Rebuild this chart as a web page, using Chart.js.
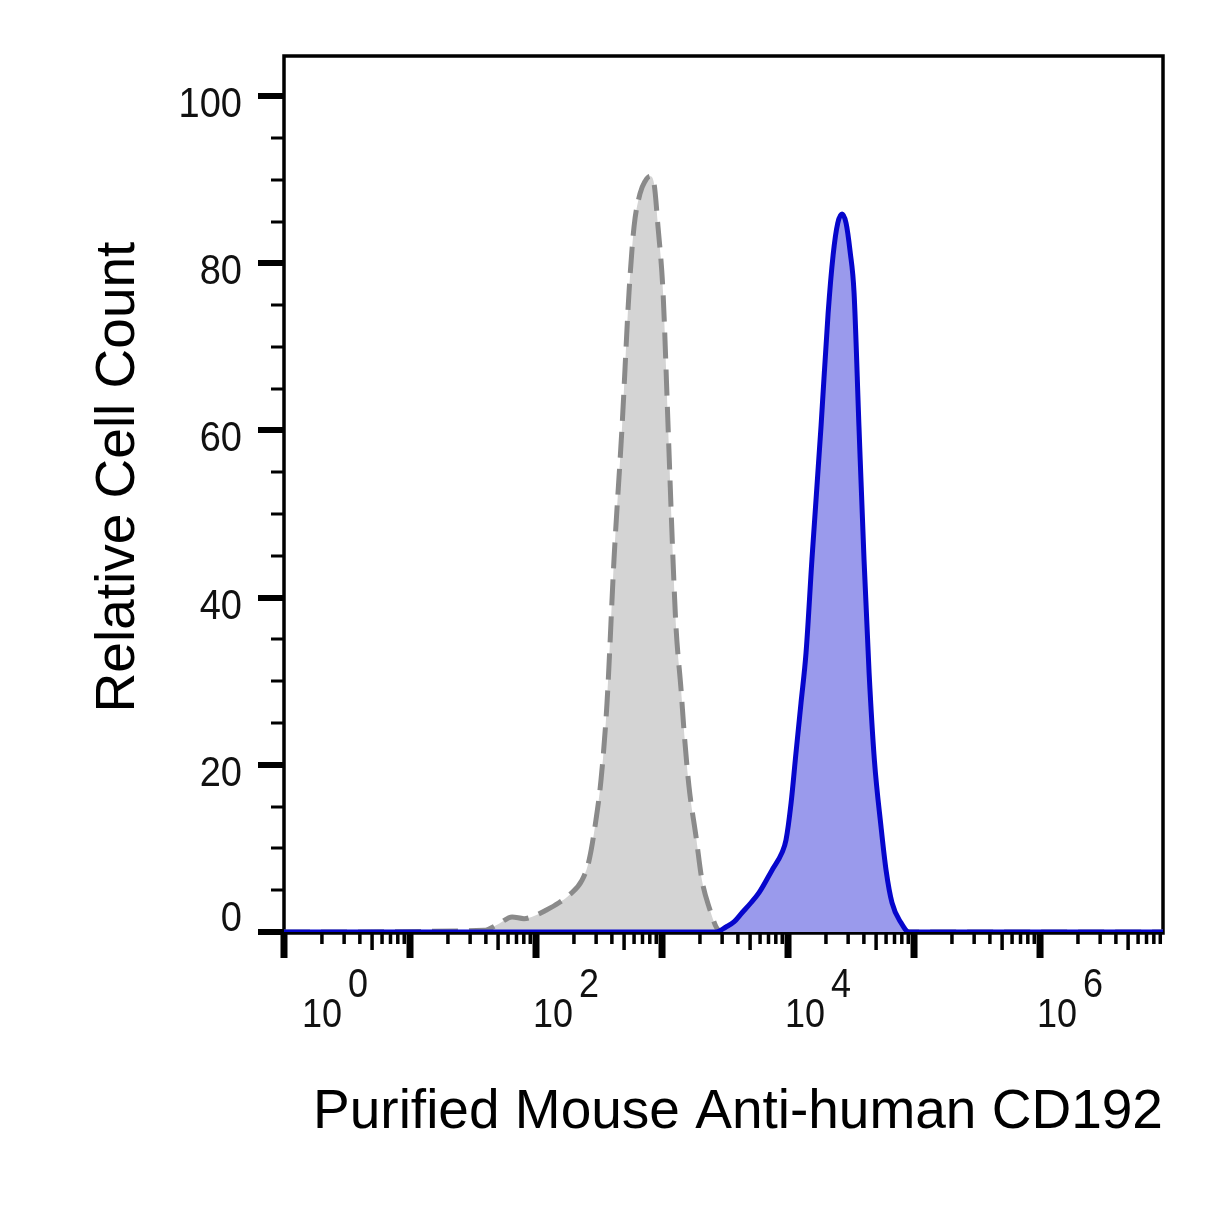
<!DOCTYPE html>
<html>
<head>
<meta charset="utf-8">
<script src="https://cdn.jsdelivr.net/npm/chart.js@4/dist/chart.umd.min.js"></script>
<style>
  html, body { margin: 0; padding: 0; background: #fff; }
  #histo { display: block; }
</style>
</head>
<body>
<canvas id="histo" width="1222" height="1226" style="width:1222px;height:1226px"></canvas>
<script>
// axis text
var xTitle = 'Purified Mouse Anti-human CD192';
var yTitle = 'Relative Cell Count';

// log axis: labelled decades (exponents) and y tick labels
var xLabelExp = [0, 2, 4, 6];
var yLabels = [0, 20, 40, 60, 80, 100];

// isotype control (grey, dashed)
var controlX = [1, 38.6, 50.8, 64.6, 80.4, 96.4, 120, 152, 183, 232, 264, 299, 328, 366, 416, 482, 547, 600, 668, 733, 804, 865, 929, 1019, 1117, 1222, 1291, 1416, 1496, 1637, 1862, 2075, 2360, 2831, 3388, 9460000];
var controlY = [0, 0.2, 1.0, 1.8, 1.6, 1.9, 2.6, 3.5, 4.4, 6.2, 8.6, 13.4, 18.2, 27.4, 44.6, 60.5, 76.5, 84.4, 88.3, 89.8, 90.4, 89.5, 84.4, 76.5, 60.5, 44.6, 36.5, 29.0, 24.0, 17.4, 11.4, 6.2, 3.0, 0.2, 0, 0];

// CD192 stained (blue)
var stainedX = [1, 1365, 2685, 3221, 3724, 4315, 5082, 5888, 7464, 8954, 9638, 10568, 11561, 12677, 13900, 15488, 18281, 20800, 22800, 24800, 26853, 28900, 31046, 33420, 36559, 40087, 44000, 48500, 54702, 59979, 66834, 78886, 91201, 9460000];
var stainedY = [0, 0, 0, 0.6, 1.2, 2.3, 3.5, 4.7, 7.4, 9.5, 11.0, 15.4, 21.4, 27.4, 33.4, 44.6, 60.5, 74.0, 81.0, 84.8, 85.9, 84.8, 81.5, 76.5, 60.5, 44.6, 31.0, 20.5, 12.6, 7.4, 3.5, 1.1, 0, 0];

function toPoints(xs, ys){
    var pts = [];
    for (var i = 0; i < xs.length; i++) pts.push({x: xs[i], y: ys[i]});
    return pts;
}

var FONT = '"Liberation Sans", Arimo, Arial, sans-serif';

// frame, ticks and labels drawn from the chart's own scales
var flowAxes = {
    id: 'flowAxes',
    beforeDatasetsDraw: function(chart){
        var ctx = chart.ctx, a = chart.chartArea;
        var xs = chart.scales.x, ys = chart.scales.y;
        ctx.save();
        ctx.strokeStyle = '#000';
        ctx.fillStyle = '#000';
        ctx.lineWidth = 3.5;
        ctx.strokeRect(a.left, a.top, a.right - a.left, a.bottom - a.top + 1);

        // y ticks
        for (var v = 0; v <= 100; v += 5){
            var py = Math.round(ys.getPixelForValue(v));
            var major = v % 20 === 0;
            var len = major ? 26 : 13, w = major ? 6 : 3;
            ctx.fillRect(a.left - len, py - w / 2, len, w);
        }
        // x ticks
        var maxV = xs.max;
        for (var k = 0; k <= 7; k++){
            for (var m = 1; m <= 9; m++){
                var val = m * Math.pow(10, k);
                if (val > maxV) break;
                var px = xs.getPixelForValue(val);
                var len2 = m === 1 ? 26 : (m === 5 ? 18 : 12);
                var w2 = m === 1 ? 7 : 3.5;
                ctx.fillRect(px - w2 / 2, a.bottom, w2, len2);
            }
        }

        // y tick labels
        ctx.font = '38px ' + FONT;
        ctx.textAlign = 'right';
        ctx.textBaseline = 'alphabetic';
        ctx.fillStyle = '#111';
        yLabels.forEach(function(v){
            var py = ys.getPixelForValue(v);
            var base = v === 0 ? py - 1 : py + 21;
            ctx.save();
            ctx.translate(242, base);
            ctx.scale(1, 1.12);
            ctx.fillText(String(v), 0, 0);
            ctx.restore();
        });

        // x tick labels 10^n
        ctx.font = '36px ' + FONT;
        ctx.textAlign = 'left';
        xLabelExp.forEach(function(e){
            var px = xs.getPixelForValue(Math.pow(10, e));
            var left = Math.max(px - 3, a.left + 18);
            ctx.save();
            ctx.translate(left, 1027);
            ctx.scale(1, 1.15);
            ctx.fillText('10', 0, 0);
            var wBase = ctx.measureText('10').width;
            ctx.fillText(String(e), wBase + 6, -26);
            ctx.restore();
        });

        // titles
        ctx.fillStyle = '#000';
        ctx.font = '55px ' + FONT;
        ctx.textAlign = 'center';
        ctx.fillText(xTitle, 738, 1128);
        ctx.save();
        ctx.translate(134, 477);
        ctx.rotate(-Math.PI / 2);
        ctx.fillText(yTitle, 0, 0);
        ctx.restore();
        ctx.restore();
    }
};

var histo = new Chart('histo', {
    type: 'line',
    data: {
        datasets: [{
            label: 'Isotype control',
            data: toPoints(controlX, controlY),
            borderColor: '#8a8a8a',
            borderWidth: 5,
            borderDash: [26, 11],
            backgroundColor: '#d4d4d4',
            fill: 'origin',
            pointRadius: 0,
            cubicInterpolationMode: 'monotone',
            order: 2
        }, {
            label: 'CD192',
            data: toPoints(stainedX, stainedY),
            borderColor: '#0606cc',
            borderWidth: 5,
            backgroundColor: '#9a9aec',
            fill: 'origin',
            pointRadius: 0,
            cubicInterpolationMode: 'monotone',
            order: 1
        }]
    },
    options: {
        responsive: false,
        animation: false,
        devicePixelRatio: 1,
        layout: { padding: { left: 284, top: 56, right: 59, bottom: 294 } },
        plugins: { legend: { display: false }, tooltip: { enabled: false } },
        scales: {
            x: { type: 'logarithmic', min: 1, max: 9460000, display: false },
            y: { type: 'linear', min: 0, max: 104.8, display: false }
        }
    },
    plugins: [flowAxes]
});
</script>
</body>
</html>
